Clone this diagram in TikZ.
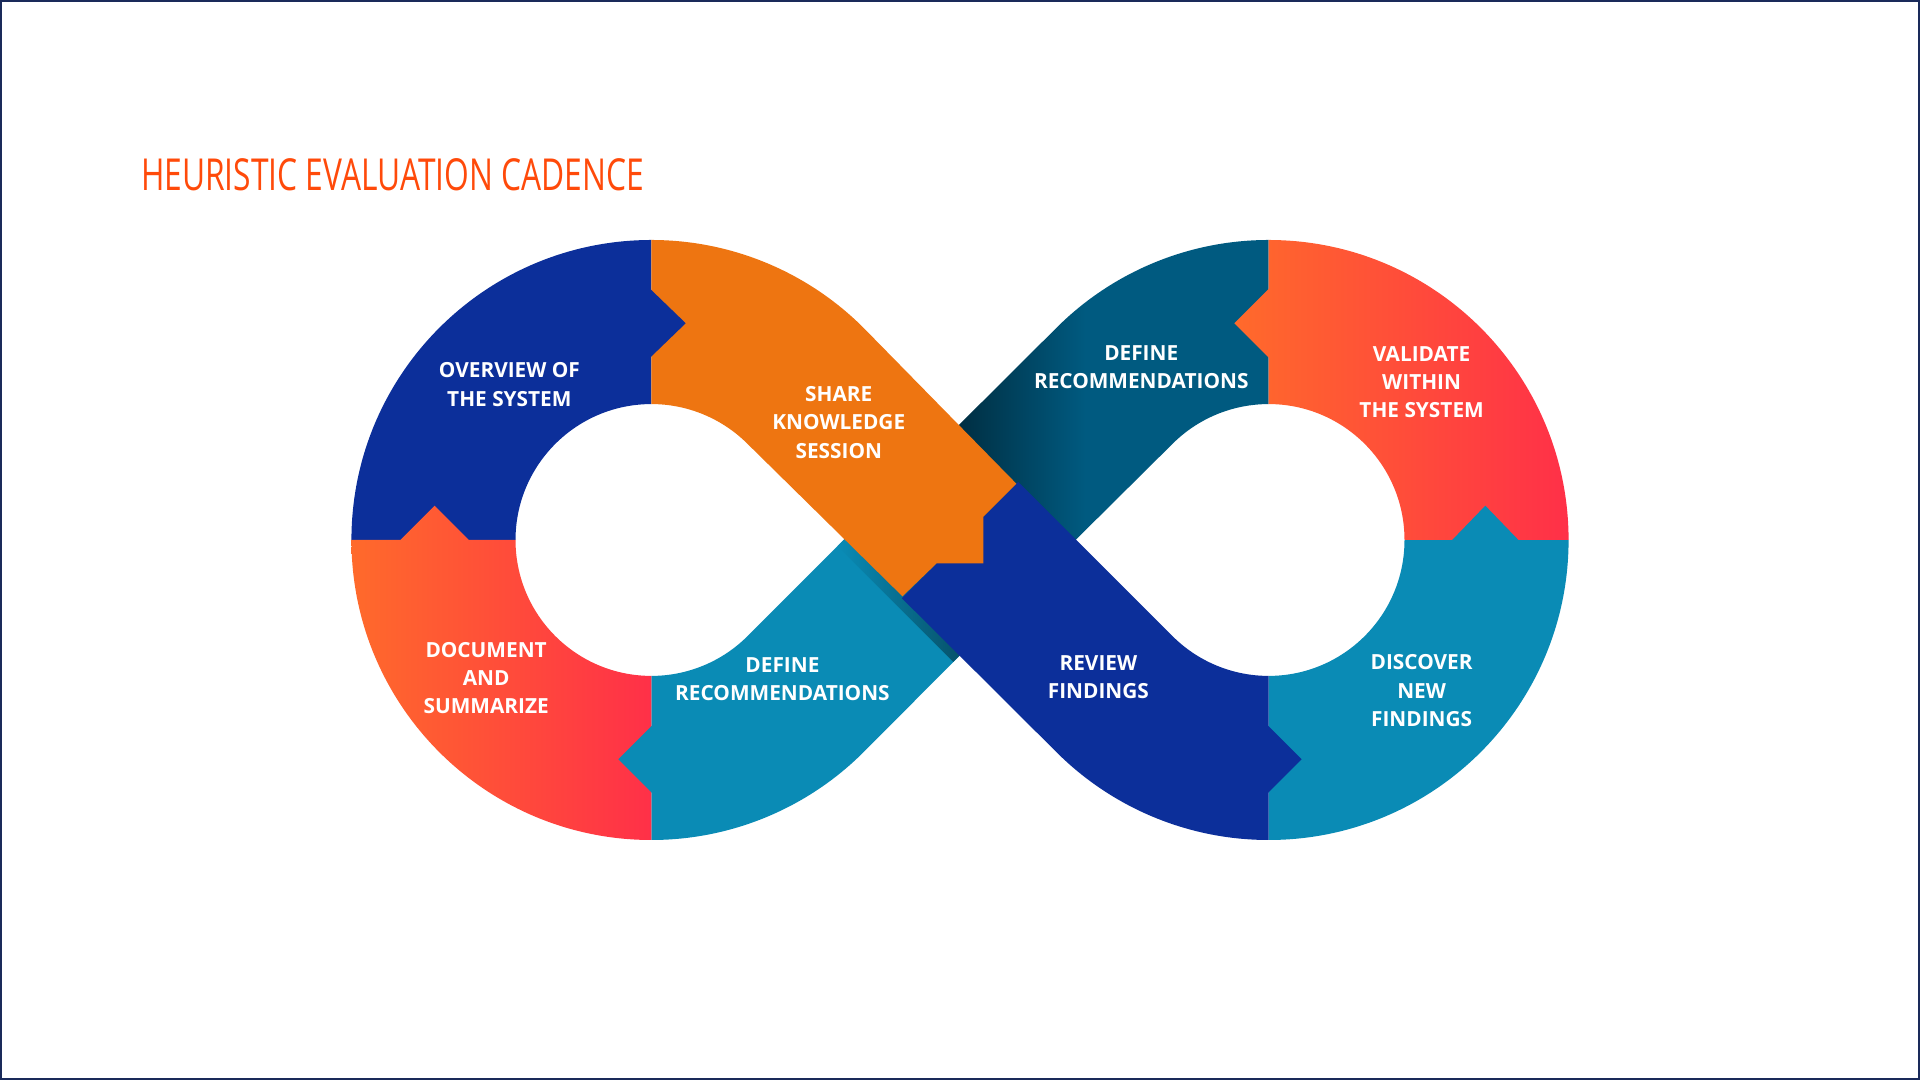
\documentclass[tikz,border=0pt]{standalone}
\usepackage{fontspec}
\setmainfont{Open Sans}
\newfontfamily\titlefont[FakeStretch=0.72]{Open Sans}
\usetikzlibrary{calc}
\definecolor{dblue}{HTML}{0C2F9A}
\definecolor{orng}{HTML}{EE7511}
\definecolor{tealA}{HTML}{0A8BB5}
\definecolor{dteal}{HTML}{005A80}
\definecolor{redL}{HTML}{FF6A2B}
\definecolor{redR}{HTML}{FF3048}
\definecolor{ttl}{HTML}{FF4A0A}
\definecolor{frame}{HTML}{1A2A5A}
\begin{document}
\begin{tikzpicture}[x=1pt,y=1pt,
  lbl/.style={text=white,align=center,font=\fontsize{17}{23}\selectfont\bfseries}]
\useasboundingbox (0,0) rectangle (1568,882);
\draw[frame,line width=1.5pt] (0.75,0.75) rectangle (1567.25,881.25);
\coordinate (L) at (532,441);
\coordinate (R) at (1036,441);
% lower teal diagonal
\fill[tealA] (532,196) arc[start angle=-90,end angle=-45,radius=245] -- (831,394) -- (736.5,488.5)
  -- ($(L)+(-45:111)$) arc[start angle=-45,end angle=-90,radius=111] -- cycle;
\shade[left color=tealA,right color=tealA!40!black] (831,394) -- (736.5,488.5) -- (684,436) -- (778.5,341.5) -- cycle;
% dark teal
\shade[left color=dteal!30!black,right color=dteal,middle color=dteal] (831,394) -- ($(R)+(135:111)$) arc[start angle=135,end angle=90,radius=111]
  -- (1036,686) arc[start angle=90,end angle=135,radius=245] -- (736.5,488.5) -- cycle;
% blue TL
\fill[dblue] (532,686) arc[start angle=90,end angle=180,radius=245] -- (421,441) arc[start angle=180,end angle=90,radius=111] -- cycle;
% red BL
\shade[left color=redL,right color=redR] (287,441) -- (327,441) -- (355,469) -- (383,441) -- (421,441)
  arc[start angle=180,end angle=270,radius=111] -- (532,196) arc[start angle=270,end angle=180,radius=245] -- cycle;
% teal right BR
\fill[tealA] (1036,196) arc[start angle=270,end angle=360,radius=245] -- (1147,441) arc[start angle=0,end angle=-90,radius=111] -- cycle;
% red TR
\shade[left color=redL,right color=redR] (1281,441) arc[start angle=0,end angle=90,radius=245] -- (1036,646) -- (1008,618) -- (1036,590) -- (1036,552)
  arc[start angle=90,end angle=0,radius=111] -- cycle;
% blue diagonal
\fill[dblue] (736.5,393.5) -- ($(R)+(225:245)$) arc[start angle=225,end angle=270,radius=245] -- (1036,330)
  arc[start angle=270,end angle=225,radius=111] -- (831.5,488.5) -- cycle;
% orange
\fill[orng] (532,686) arc[start angle=90,end angle=45,radius=245] -- (830,487) -- (803,460) -- (803,422) -- (765,422) -- (737,395)
  -- ($(L)+(45:111)$) arc[start angle=45,end angle=90,radius=111] -- cycle;
% tips
\fill[dblue] (531,646) -- (560,618) -- (531,590) -- cycle;
\fill[tealA] (533,290) -- (505,262) -- (533,234) -- cycle;
\fill[dblue] (1035,290) -- (1063,262) -- (1035,234) -- cycle;
\fill[tealA] (1185,440) -- (1213,469) -- (1241,440) -- cycle;
% labels
\node[lbl] (n1) at (416,568) {OVERVIEW OF\\THE SYSTEM};
\node[lbl] (n2) at (685,537) {SHARE\\KNOWLEDGE\\SESSION};
\node[lbl] (n3) at (932,582) {DEFINE\\RECOMMENDATIONS};
\node[lbl] (n4) at (1161,570) {VALIDATE\\WITHIN\\THE SYSTEM};
\node[lbl] (n5) at (397,328) {DOCUMENT\\AND\\SUMMARIZE};
\node[lbl] (n6) at (639,327) {DEFINE\\RECOMMENDATIONS};
\node[lbl] (n7) at (897,329) {REVIEW\\FINDINGS};
\node[lbl] (n8) at (1161,318) {DISCOVER\\NEW\\FINDINGS};
\node[anchor=west,text=ttl,font=\titlefont\fontsize{36}{40}\selectfont,inner sep=0] (t) at (115,739) {HEURISTIC EVALUATION CADENCE};
\end{tikzpicture}
\end{document}
